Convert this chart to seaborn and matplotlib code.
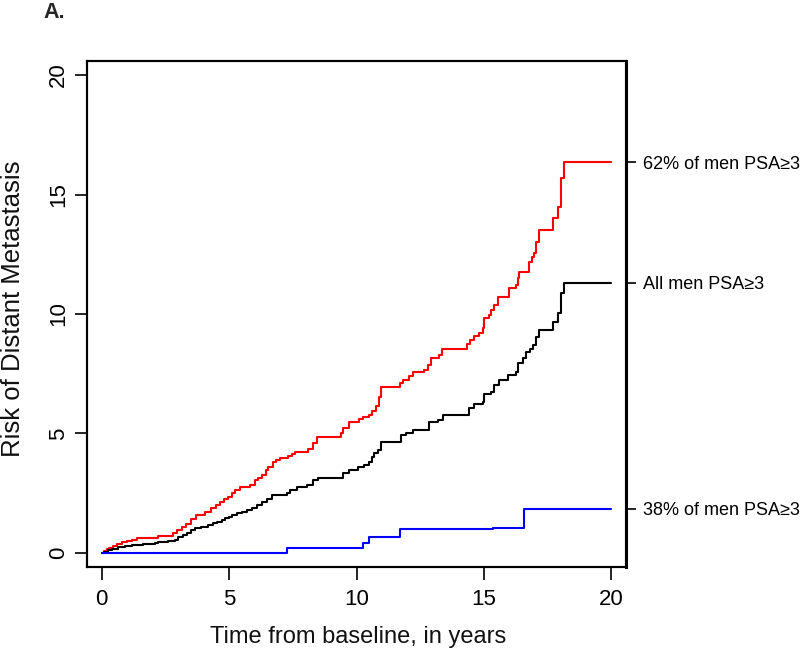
import numpy as np
import pandas as pd
import matplotlib
matplotlib.use("Agg")
import matplotlib.pyplot as plt
import seaborn as sns

# ---- data ----
red_time = [0, 0.1, 0.2, 0.3, 0.45, 0.6, 0.8, 1.0, 1.2, 1.4, 2.2, 2.8, 2.95, 3.15, 3.3, 3.5, 3.7,
            4.05, 4.3, 4.5, 4.65, 4.8, 4.96, 5.1, 5.24, 5.43, 5.83, 6.02, 6.15, 6.3, 6.45, 6.54,
            6.73, 6.85, 7.0, 7.32, 7.45, 7.6, 8.1, 8.27, 8.46, 9.4, 9.45, 9.7, 10.08, 10.24, 10.47,
            10.6, 10.75, 10.87, 10.94, 11.7, 11.81, 12.05, 12.2, 12.64, 12.8, 12.91, 13.23, 13.35,
            14.35, 14.45, 14.6, 14.8, 14.96, 15.0, 15.2, 15.28, 15.4, 15.55, 15.98, 16.26, 16.34,
            16.38, 16.77, 16.9, 16.97, 17.05, 17.17, 17.72, 17.91, 18.03, 18.15, 20.0]
red_risk = [0, 0.08, 0.15, 0.22, 0.3, 0.37, 0.44, 0.5, 0.56, 0.63, 0.72, 0.84, 0.96, 1.08, 1.2, 1.4, 1.6,
            1.72, 1.88, 2.0, 2.13, 2.24, 2.36, 2.5, 2.64, 2.76, 2.85, 3.05, 3.15, 3.26, 3.45, 3.6,
            3.8, 3.9, 3.97, 4.05, 4.15, 4.23, 4.35, 4.6, 4.85, 5.0, 5.23, 5.48, 5.6, 5.68, 5.77,
            5.95, 6.15, 6.53, 6.95, 7.1, 7.24, 7.4, 7.57, 7.66, 7.87, 8.16, 8.28, 8.54,
            8.75, 8.91, 9.08, 9.2, 9.4, 9.83, 9.95, 10.17, 10.38, 10.71, 11.09, 11.2, 11.5,
            11.76, 12.18, 12.4, 12.55, 13.0, 13.5, 14.0, 14.48, 15.7, 16.36, 16.36]

black_time = [0, 0.1, 0.25, 0.4, 0.63, 0.9, 1.18, 1.6, 2.09, 2.2, 2.6, 2.87, 3.0, 3.2, 3.35, 3.5, 3.66,
              3.9, 4.17, 4.35, 4.53, 4.7, 4.84, 5.0, 5.12, 5.3, 5.5, 5.7, 5.9, 6.1, 6.3, 6.5, 6.7,
              7.28, 7.4, 7.68, 8.07, 8.3, 8.5, 9.45, 9.69, 10.04, 10.28, 10.47, 10.6, 10.7, 10.83,
              10.94, 11.73, 11.93, 12.2, 12.83, 13.19, 13.39, 14.41, 14.6, 14.96, 15.0, 15.28, 15.4,
              15.59, 15.94, 16.26, 16.34, 16.54, 16.65, 16.8, 16.93, 17.05, 17.17, 17.72, 17.91,
              18.03, 18.15, 20.0]
black_risk = [0, 0.05, 0.12, 0.18, 0.25, 0.29, 0.33, 0.38, 0.42, 0.46, 0.5, 0.54, 0.67, 0.76, 0.84, 0.95, 1.05,
              1.1, 1.17, 1.24, 1.3, 1.38, 1.46, 1.52, 1.59, 1.65, 1.72, 1.8, 1.9, 2.0, 2.13, 2.26, 2.43,
              2.51, 2.64, 2.76, 2.85, 3.05, 3.14, 3.35, 3.47, 3.6, 3.68, 3.81, 4.0, 4.18, 4.31,
              4.64, 4.94, 5.02, 5.15, 5.48, 5.56, 5.77, 6.07, 6.23, 6.32, 6.65, 6.74, 7.03,
              7.24, 7.45, 7.57, 7.95, 8.16, 8.41, 8.55, 8.7, 9.04, 9.33, 9.67, 10.04,
              10.88, 11.3, 11.3]

blue_time = [0, 7.25, 10.25, 10.5, 11.7, 15.35, 16.55, 20.0]
blue_risk = [0, 0.2, 0.42, 0.67, 1.0, 1.03, 1.84, 1.84]

groups = ["62% of men PSA≥3", "All men PSA≥3", "38% of men PSA≥3"]
colors = ["#ff0000", "#000000", "#0000ff"]
x_ticks = [0, 5, 10, 15, 20]
y_ticks = [0, 5, 10, 15, 20]

df = pd.concat([
    pd.DataFrame({"time": red_time, "risk": red_risk, "group": groups[0]}),
    pd.DataFrame({"time": black_time, "risk": black_risk, "group": groups[1]}),
    pd.DataFrame({"time": blue_time, "risk": blue_risk, "group": groups[2]}),
], ignore_index=True)

sns.set_style("ticks")
plt.rcParams["font.family"] = ["Liberation Sans", "DejaVu Sans"]

fig = plt.figure(figsize=(8, 6.53), dpi=100)
ax = fig.add_axes([0.109, 0.1317, 0.6735, 0.7749])

sns.lineplot(data=df, x="time", y="risk", hue="group", hue_order=groups,
             palette=dict(zip(groups, colors)), drawstyle="steps-post",
             estimator=None, sort=False, linewidth=1.5, legend=False, ax=ax)

xlim = (-0.57, 20.57)
ylim = (-0.59, 20.59)
ax.set_xlim(*xlim)
ax.set_ylim(*ylim)
ax.set_xticks(x_ticks)
ax.set_yticks(y_ticks)
ax.set_xticklabels([str(v) for v in x_ticks])
ax.set_yticklabels([str(v) for v in y_ticks], rotation=90, va="center")
ax.tick_params(axis="x", direction="out", length=9, width=1.2, labelsize=16, pad=7, colors="black")
ax.tick_params(axis="y", direction="out", length=9, width=1.2, labelsize=16, pad=4, colors="black")
for s in ax.spines.values():
    s.set_linewidth(1.5)
    s.set_color("black")
ax.set_xlabel("Time from baseline, in years", fontsize=17, color="#111111")
ax.set_ylabel("Risk of Distant Metastasis", fontsize=18.5, color="#111111")
ax.xaxis.set_label_coords(0.502, -0.116)
ax.yaxis.set_label_coords(-0.115, 0.51)

ax2 = ax.twinx()
ax2.set_ylim(*ylim)
finals = [red_risk[-1], black_risk[-1], blue_risk[-1]]
ax2.set_yticks(finals)
ax2.set_yticklabels(groups)
ax2.tick_params(direction="out", length=7, width=1.2, labelsize=13, pad=5, colors="black")
for name, s in ax2.spines.items():
    s.set_linewidth(1.5)
    s.set_color("black")
ax2.spines["right"].set_linewidth(2.2)

fig.text(0.054, 1 - 18 / 653, "A.", fontsize=15.5, fontweight="bold", va="baseline", ha="left")

fig.savefig("out.png", dpi=100)
